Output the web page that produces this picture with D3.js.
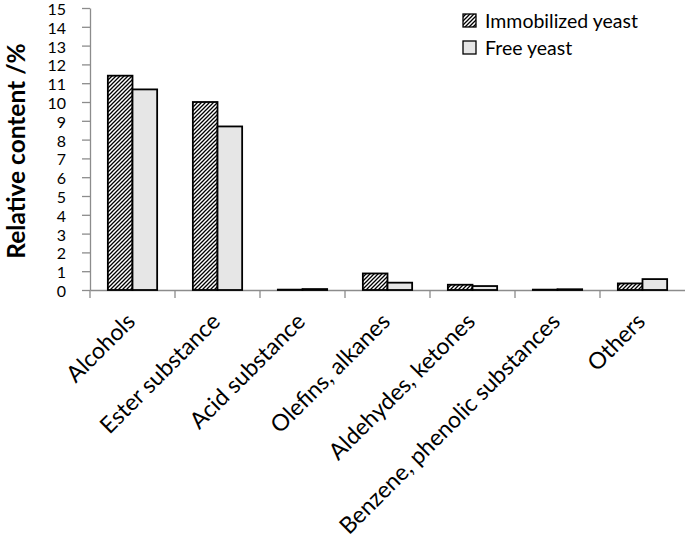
<!DOCTYPE html>
<html><head><meta charset="utf-8">
<script src="https://cdn.jsdelivr.net/npm/d3@7"></script>
<style>body{margin:0;background:#fff}svg{display:block}text{font-family:Lato,"Open Sans",sans-serif}</style>
</head><body>
<svg id="c" width="685" height="537"></svg>
<script>
const categories = ["Alcohols","Ester substance","Acid substance","Olefins, alkanes","Aldehydes, ketones","Benzene, phenolic substances","Others"];
const seriesNames = ["Immobilized yeast","Free yeast"];
const immobilized = [11.4, 10.0, 0.02, 0.88, 0.28, 0.02, 0.35];
const free = [10.67, 8.7, 0.05, 0.39, 0.21, 0.04, 0.58];
const yTicks = d3.range(0,16,1);

const svg = d3.select("#c");
const defs = svg.append("defs");
const pat = defs.append("pattern").attr("id","hatch").attr("patternUnits","userSpaceOnUse")
  .attr("width",4).attr("height",4);
pat.append("rect").attr("width",4).attr("height",4).attr("fill","#fff");
pat.append("path").attr("d","M-1,1 l2,-2 M0,4 l4,-4 M3,5 l2,-2").attr("stroke","#000").attr("stroke-width",1.3);

const pLeft=90, pRight=685, pTop=8, pBottom=290;
const x = d3.scaleBand().domain(categories).range([pLeft,pRight]).paddingInner(0).paddingOuter(0);
const y = d3.scaleLinear().domain([0,15]).range([pBottom,pTop]);
const bw = x.bandwidth();
const barW = bw*0.29, off = bw*0.21;

// axes
const ya = svg.append("g").attr("transform",`translate(${pLeft},0)`)
  .call(d3.axisLeft(y).tickValues(yTicks).tickSize(8).tickSizeOuter(0).tickPadding(16));
ya.select(".domain").attr("stroke","#8c8c8c").attr("stroke-width",1.3);
ya.selectAll(".tick line").attr("stroke","#8c8c8c").attr("stroke-width",1.3);
ya.selectAll(".tick text").attr("font-size",16).attr("fill","#000").attr("dy","0.4em");

const xa = svg.append("g").attr("transform",`translate(0,${pBottom})`)
  .call(d3.axisBottom(x).tickSize(0).tickSizeOuter(0).tickFormat(""));
xa.select(".domain").attr("stroke","#8c8c8c").attr("stroke-width",1.3);
xa.selectAll(".tick line").remove();
// category boundary ticks
svg.append("g").selectAll("line").data(categories).join("line")
  .attr("x1",d=>x(d)).attr("x2",d=>x(d)).attr("y1",pBottom).attr("y2",pBottom+8)
  .attr("stroke","#8c8c8c").attr("stroke-width",1.3);

// x labels
svg.append("g").selectAll("text").data(categories).join("text")
  .attr("transform",d=>`translate(${x(d)+bw/2+4},${pBottom+33}) rotate(-45)`)
  .attr("text-anchor","end").attr("font-size",23).attr("fill","#000").text(d=>d);

// bars
const g = svg.append("g");
g.selectAll(".imm").data(categories).join("rect")
  .attr("x",(d)=>x(d)+off).attr("width",barW)
  .attr("y",(d,i)=>y(immobilized[i])).attr("height",(d,i)=>y(0)-y(immobilized[i]))
  .attr("fill","url(#hatch)").attr("stroke","#000").attr("stroke-width",1.8);
g.selectAll(".free").data(categories).join("rect")
  .attr("x",(d)=>x(d)+off+barW).attr("width",barW)
  .attr("y",(d,i)=>y(free[i])).attr("height",(d,i)=>y(0)-y(free[i]))
  .attr("fill","#e6e6e6").attr("stroke","#000").attr("stroke-width",1.8);

// y title
svg.append("text").attr("transform","translate(25,151) rotate(-90)")
  .attr("text-anchor","middle").attr("font-size",24.5).attr("font-weight","bold").text("Relative content /%");

// legend
const leg = svg.append("g");
const fills = ["url(#hatch)","#e6e6e6"];
seriesNames.forEach((n,i)=>{
  const yy = 14 + i*27;
  leg.append("rect").attr("x",463).attr("y",yy).attr("width",13).attr("height",13)
    .attr("fill",fills[i]).attr("stroke","#000").attr("stroke-width",1.3);
  leg.append("text").attr("x",485).attr("y",yy+13.5).attr("font-size",19.5).text(n);
});
</script>
</body></html>
